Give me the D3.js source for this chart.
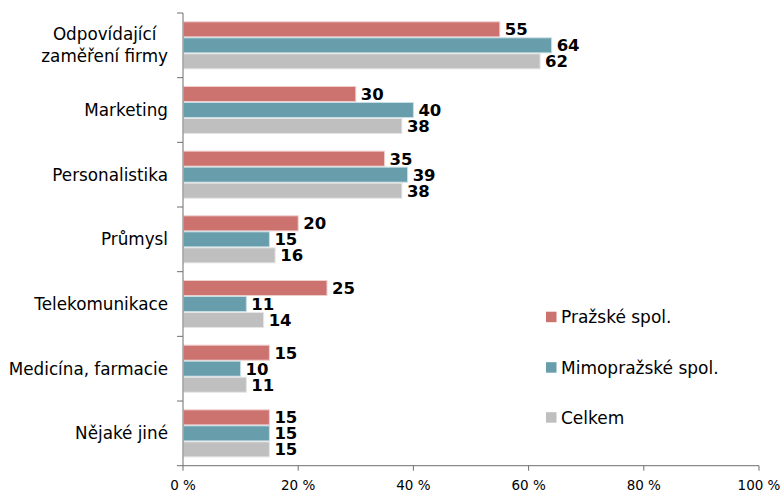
<!DOCTYPE html>
<html>
<head>
<meta charset="utf-8">
<script src="https://cdn.jsdelivr.net/npm/d3@7"></script>
<style>
  html, body { margin: 0; padding: 0; background: #fff; }
  text { font-family: "DejaVu Sans", Verdana, sans-serif; }
</style>
</head>
<body>
<svg id="chart" width="782" height="492"></svg>
<script>
// Categories (top to bottom); "\n" marks a wrapped label
const categories = [
  "Odpovídající\nzaměření firmy",
  "Marketing",
  "Personalistika",
  "Průmysl",
  "Telekomunikace",
  "Medicína, farmacie",
  "Nějaké jiné"
];
const seriesNames = ["Pražské spol.", "Mimopražské spol.", "Celkem"];
const seriesColors = ["#cc7370", "#689eac", "#bfbfbf"];
const seriesEdges = ["#f0cfcd", "#c9dfe5", "#e6e6e6"];

// Values in percent, one array per series
const prazske = [55, 30, 35, 20, 25, 15, 15];
const mimoprazske = [64, 40, 39, 15, 11, 10, 15];
const celkem = [62, 38, 38, 16, 14, 11, 15];
const seriesValues = [prazske, mimoprazske, celkem];

const xTicks = [0, 20, 40, 60, 80, 100];

const svg = d3.select("#chart");
const plotLeft = 183, plotRight = 759, plotTop = 13, plotBottom = 465.7;

const x = d3.scaleLinear().domain([0, 100]).range([plotLeft, plotRight]);
const y = d3.scaleBand().domain(categories).range([plotTop, plotBottom]).paddingInner(0).paddingOuter(0);
const inner = d3.scaleBand().domain(d3.range(seriesNames.length))
  .range([0, y.bandwidth()]).paddingInner(0.06).paddingOuter(0.55);

const data = categories.flatMap((c, ci) =>
  seriesValues.map((vals, si) => ({ cat: c, s: si, v: vals[ci] })));

// Bars
const g = svg.append("g");
g.selectAll("rect.bar").data(data).enter().append("rect")
  .attr("class", "bar")
  .attr("x", x(0) + 0.5)
  .attr("y", d => y(d.cat) + inner(d.s))
  .attr("width", d => x(d.v) - x(0) - 0.5)
  .attr("height", inner.bandwidth())
  .attr("fill", d => seriesColors[d.s])
  .attr("stroke", d => seriesEdges[d.s])
  .attr("stroke-width", 1);

// Value labels
g.selectAll("text.val").data(data).enter().append("text")
  .attr("class", "val")
  .attr("x", d => x(d.v) + 5)
  .attr("y", d => y(d.cat) + inner(d.s) + inner.bandwidth() / 2)
  .attr("dy", "0.36em")
  .attr("font-size", 16.5)
  .attr("font-weight", "bold")
  .attr("fill", "#000")
  .text(d => d.v);

// Axes
const axisColor = "#6e6e6e";
svg.append("line")
  .attr("x1", plotLeft).attr("x2", plotLeft).attr("y1", plotTop).attr("y2", plotBottom)
  .attr("stroke", axisColor);
svg.append("line")
  .attr("x1", plotLeft).attr("x2", plotRight).attr("y1", plotBottom).attr("y2", plotBottom)
  .attr("stroke", axisColor);

// Category boundary ticks on the y axis
const boundaries = categories.map(c => y(c)).concat([plotBottom]);
svg.selectAll("line.ytick").data(boundaries).enter().append("line")
  .attr("x1", plotLeft - 6).attr("x2", plotLeft)
  .attr("y1", d => d).attr("y2", d => d)
  .attr("stroke", axisColor);

// x ticks and labels
svg.selectAll("line.xtick").data(xTicks).enter().append("line")
  .attr("x1", d => x(d)).attr("x2", d => x(d))
  .attr("y1", plotBottom).attr("y2", plotBottom + 5)
  .attr("stroke", axisColor);
svg.selectAll("text.xlab").data(xTicks).enter().append("text")
  .attr("x", d => x(d))
  .attr("y", plotBottom + 24)
  .attr("text-anchor", "middle")
  .attr("font-size", 13.5)
  .attr("fill", "#000")
  .text(d => d + " %");

// Category labels: block right-aligned, wrapped lines centred within the block
const labelRight = 168, lineH = 22;
categories.forEach(c => {
  const lines = c.split("\n");
  const cy = y(c) + y.bandwidth() / 2;
  const t = svg.append("text")
    .attr("font-size", 16.8)
    .attr("fill", "#000");
  const spans = lines.map((ln, i) => t.append("tspan")
    .attr("y", cy + (i - (lines.length - 1) / 2) * lineH)
    .attr("dy", "0.36em")
    .text(ln));
  const widths = spans.map(s => s.node().getComputedTextLength());
  const blockW = d3.max(widths);
  spans.forEach(s => s.attr("x", labelRight - blockW / 2).attr("text-anchor", "middle"));
});

// Legend
const legendY = [317, 367.5, 417.5];
seriesNames.forEach((n, i) => {
  svg.append("rect")
    .attr("x", 546).attr("y", legendY[i] - 5.3)
    .attr("width", 10.5).attr("height", 10.5)
    .attr("fill", seriesColors[i]);
  svg.append("text")
    .attr("x", 561).attr("y", legendY[i])
    .attr("dy", "0.36em")
    .attr("font-size", 17)
    .attr("fill", "#000")
    .text(n);
});
</script>
</body>
</html>
